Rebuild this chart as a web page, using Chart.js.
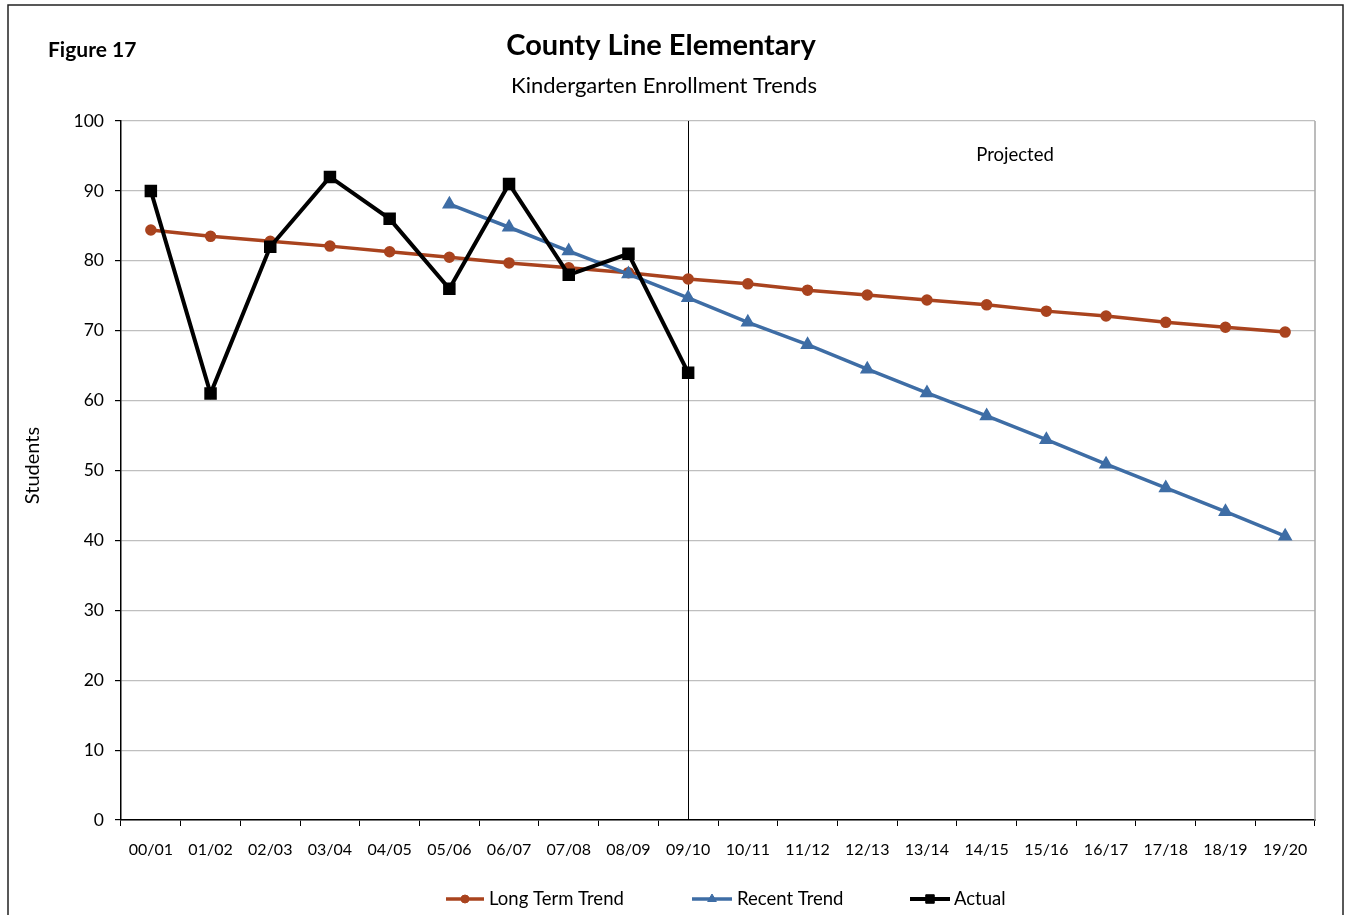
<!DOCTYPE html>
<html>
<head>
<meta charset="utf-8">
<script src="https://cdn.jsdelivr.net/npm/chart.js@4.4.1/dist/chart.umd.min.js"></script>
<style>
html,body{margin:0;padding:0;background:#fff;}
#wrap{width:1348px;height:915px;position:relative;}
</style>
</head>
<body>
<div id="wrap"><canvas id="c" width="1348" height="915"></canvas></div>
<script>
const categories = ["00/01","01/02","02/03","03/04","04/05","05/06","06/07","07/08","08/09","09/10","10/11","11/12","12/13","13/14","14/15","15/16","16/17","17/18","18/19","19/20"];
const longTermTrend = [84.4,83.5,82.8,82.1,81.3,80.5,79.7,79.0,78.3,77.4,76.7,75.8,75.1,74.4,73.7,72.8,72.1,71.2,70.5,69.8];
const recentTrend = [null,null,null,null,null,88.1,84.8,81.4,78.1,74.7,71.2,68.0,64.5,61.1,57.8,54.4,50.9,47.5,44.1,40.6];
const actual = [90,61,82,92,86,76,91,78,81,64,null,null,null,null,null,null,null,null,null,null];
const yTicks = [0,10,20,30,40,50,60,70,80,90,100];
const projectionStart = "09/10";

const FONT = "Lato, 'Open Sans', sans-serif";
const C_LONG = "#A9431E", C_RECENT = "#3E6DA5", C_ACT = "#000000";

const decor = {
  id: 'decor',
  beforeDatasetsDraw(chart) {
    const ctx = chart.ctx, a = chart.chartArea, x = chart.scales.x;
    ctx.save();
    ctx.strokeStyle = '#A6A6A6'; ctx.lineWidth = 1.5;
    ctx.beginPath(); ctx.moveTo(a.right, a.top); ctx.lineTo(a.right, a.bottom); ctx.stroke();
    const px = Math.round(x.getPixelForValue(categories.indexOf(projectionStart))) + 0.5;
    ctx.strokeStyle = '#000'; ctx.lineWidth = 1;
    ctx.beginPath(); ctx.moveTo(px, a.top); ctx.lineTo(px, a.bottom); ctx.stroke();
    ctx.restore();
  },
  afterDraw(chart) {
    const ctx = chart.ctx, a = chart.chartArea;
    ctx.save();
    ctx.strokeStyle = '#222'; ctx.lineWidth = 1.5;
    ctx.strokeRect(8, 5, 1335, 930);
    ctx.fillStyle = '#000';
    ctx.textBaseline = 'middle';
    ctx.textAlign = 'center';
    ctx.font = "bold 29px " + FONT;
    ctx.fillText("County Line Elementary", 661, 46);
    ctx.font = "22px " + FONT;
    ctx.fillText("Kindergarten Enrollment Trends", 664, 86);
    ctx.textAlign = 'left';
    ctx.font = "bold 21px " + FONT;
    ctx.fillText("Figure 17", 48, 50);
    ctx.textAlign = 'center';
    ctx.font = "18.5px " + FONT;
    ctx.fillText("Projected", 1015, 155);
    ctx.save();
    ctx.translate(33, (a.top + a.bottom) / 2 - 5);
    ctx.rotate(-Math.PI / 2);
    ctx.font = "20px " + FONT;
    ctx.fillText("Students", 0, 0);
    ctx.restore();
    const items = [
      {ds: 0, x0: 446, x1: 484, tx: 489},
      {ds: 1, x0: 692, x1: 732, tx: 737},
      {ds: 2, x0: 910, x1: 950, tx: 954}
    ];
    const ly = 899;
    ctx.textAlign = 'left';
    ctx.font = "18.5px " + FONT;
    items.forEach(it => {
      const d = chart.data.datasets[it.ds];
      ctx.strokeStyle = d.borderColor; ctx.lineWidth = d.borderWidth;
      ctx.beginPath(); ctx.moveTo(it.x0, ly); ctx.lineTo(it.x1, ly); ctx.stroke();
      ctx.fillStyle = d.pointBackgroundColor; ctx.strokeStyle = d.pointBorderColor; ctx.lineWidth = 1;
      Chart.helpers.drawPoint(ctx, {pointStyle: d.pointStyle, radius: d.pointRadius, borderWidth: 1, rotation: 0}, (it.x0 + it.x1) / 2, ly);
      ctx.fillStyle = '#000';
      ctx.fillText(d.label, it.tx, ly);
    });
    ctx.restore();
  }
};

new Chart(document.getElementById('c'), {
  type: 'line',
  data: {
    labels: categories,
    datasets: [
      {label: 'Long Term Trend', data: longTermTrend, borderColor: C_LONG, backgroundColor: C_LONG,
       pointBackgroundColor: C_LONG, pointBorderColor: C_LONG, borderWidth: 3.5, pointStyle: 'circle', pointRadius: 4, order: 3},
      {label: 'Recent Trend', data: recentTrend, borderColor: C_RECENT, backgroundColor: C_RECENT,
       pointBackgroundColor: C_RECENT, pointBorderColor: C_RECENT, borderWidth: 3.5, pointStyle: 'triangle', pointRadius: 5, order: 2},
      {label: 'Actual', data: actual, borderColor: C_ACT, backgroundColor: C_ACT,
       pointBackgroundColor: C_ACT, pointBorderColor: C_ACT, borderWidth: 4, pointStyle: 'rect', pointRadius: 6, order: 1}
    ]
  },
  options: {
    responsive: false,
    animation: false,
    events: [],
    layout: {padding: {left: 0, right: 33, top: 121, bottom: 0}},
    plugins: {legend: {display: false}, title: {display: false}, tooltip: {enabled: false}},
    elements: {line: {tension: 0}, point: {borderWidth: 1}},
    scales: {
      x: {
        type: 'category', offset: true,
        grid: {display: true, offset: true, drawOnChartArea: false, color: '#000', tickLength: 6},
        border: {color: '#000', width: 1.5},
        ticks: {color: '#000', font: {family: FONT, size: 16}, padding: 14, maxRotation: 0, autoSkip: false},
        afterFit(s) { s.height = 95; }
      },
      y: {
        min: 0, max: 100,
        afterBuildTicks(s) { s.ticks = yTicks.map(v => ({value: v})); },
        grid: {color: '#BFBFBF', lineWidth: 1.2, tickColor: '#000', tickLength: 6},
        border: {color: '#000', width: 1.5},
        ticks: {color: '#000', font: {family: FONT, size: 17.5}, padding: 11},
        afterFit(s) { s.width = 121; }
      }
    }
  },
  plugins: [decor]
});
</script>
</body>
</html>
